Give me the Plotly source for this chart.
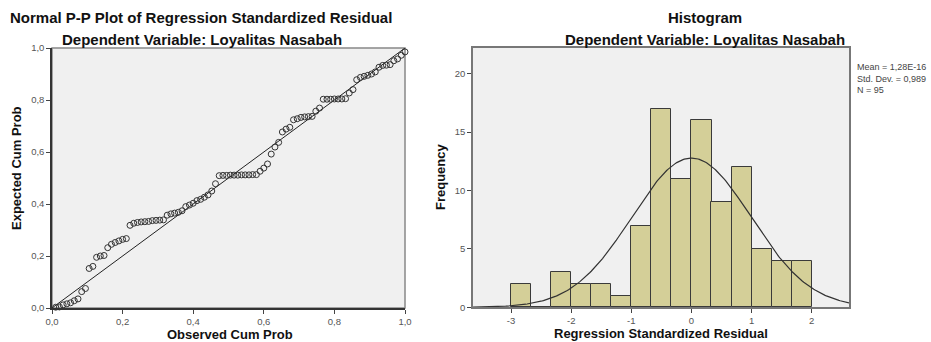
import numpy as np
import plotly.graph_objects as go

# ---------------- data ----------------
pp_title = "Normal P-P Plot of Regression Standardized Residual"
hist_title = "Histogram"
subtitle = "Dependent Variable: Loyalitas Nasabah"
pp_xlabel = "Observed Cum Prob"
pp_ylabel = "Expected Cum Prob"
hist_xlabel = "Regression Standardized Residual"
hist_ylabel = "Frequency"

N = 95
# Expected cumulative probability of each sorted residual
expected_cum_prob = [
    0.003, 0.004, 0.012, 0.016, 0.020, 0.028, 0.035,
    0.063, 0.075,
    0.152, 0.160,
    0.195, 0.200, 0.202,
    0.232, 0.245, 0.252,
    0.258, 0.264, 0.267,
    0.318,
    0.326, 0.329, 0.331, 0.332, 0.333,
    0.336, 0.337, 0.338, 0.339,
    0.357, 0.362, 0.365, 0.368,
    0.374, 0.390, 0.396, 0.403, 0.413, 0.418, 0.426, 0.435, 0.450,
    0.478,
    0.509, 0.510, 0.510, 0.511, 0.511, 0.511, 0.512, 0.512, 0.512, 0.513, 0.513,
    0.526, 0.538, 0.554,
    0.592,
    0.619, 0.637,
    0.677, 0.688, 0.695,
    0.724, 0.728, 0.733, 0.735, 0.736, 0.737,
    0.757, 0.769,
    0.803, 0.803, 0.803, 0.804, 0.804, 0.804, 0.805,
    0.827, 0.840,
    0.878, 0.887, 0.891, 0.895, 0.900, 0.908,
    0.926, 0.933, 0.934, 0.936,
    0.951, 0.958, 0.972, 0.985,
]
# Observed cumulative probability = rank / N
observed_cum_prob = [(i + 1) / N for i in range(len(expected_cum_prob))]

pp_ticks = [0.0, 0.2, 0.4, 0.6, 0.8, 1.0]
pp_ticktext = ["0,0", "0,2", "0,4", "0,6", "0,8", "1,0"]

# Histogram bins (width 1/3) and frequencies
bin_width = 1 / 3
bin_left_edges = [-3.0, -2.667, -2.333, -2.0, -1.667, -1.333, -1.0, -0.667,
                  -0.333, 0.0, 0.333, 0.667, 1.0, 1.333, 1.667]
frequencies = [2, 0, 3, 2, 2, 1, 7, 17, 11, 16, 9, 12, 5, 4, 4]

hist_mean = 1.28e-16
hist_sd = 0.989
stats_text = "Mean = 1,28E-16<br>Std. Dev. = 0,989<br>N = 95"

hist_xticks = [-3, -2, -1, 0, 1, 2]
hist_xticktext = ["-3", "-2", "-1", "0", "1", "2"]
hist_yticks = [0, 5, 10, 15, 20]

# ---------------- figure ----------------
W, H = 931, 342
FONT = "Liberation Sans, Arial, sans-serif"
bar_color = "#D4CF98"
plot_bg = "#F0F0F0"

def px_x(p):
    return p / W

def px_y(p):
    return 1 - p / H

fig = go.Figure()

# P-P plot
fig.add_trace(go.Scatter(
    x=[0, 1], y=[0, 1], mode="lines",
    line=dict(color="#222222", width=1), xaxis="x", yaxis="y",
    hoverinfo="skip", showlegend=False))
fig.add_trace(go.Scatter(
    x=observed_cum_prob, y=expected_cum_prob, mode="markers",
    marker=dict(symbol="circle-open", size=6, color="#333333",
                line=dict(width=1, color="#333333")),
    xaxis="x", yaxis="y", showlegend=False, cliponaxis=False))

# Histogram
centers = [e + bin_width / 2 for e in bin_left_edges]
fig.add_trace(go.Bar(
    x=centers, y=frequencies, width=bin_width,
    marker=dict(color=bar_color, line=dict(color="#3a3a3a", width=1)),
    xaxis="x2", yaxis="y2", showlegend=False))

x_lo, x_hi = -3.633, 2.62
xs = np.linspace(x_lo, x_hi, 300)
ys = N * bin_width * np.exp(-0.5 * ((xs - hist_mean) / hist_sd) ** 2) / (hist_sd * np.sqrt(2 * np.pi))
fig.add_trace(go.Scatter(
    x=xs, y=ys, mode="lines", line=dict(color="#333333", width=1.2),
    xaxis="x2", yaxis="y2", hoverinfo="skip", showlegend=False))

tickfont = dict(family=FONT, size=9.5, color="#555555")
axtitle_font = dict(family=FONT, size=13, color="#111111")
title_font = dict(family=FONT, size=15, color="#111111")

common_axis = dict(
    tickfont=tickfont, ticks="outside", ticklen=4, tickcolor="#444444",
    showgrid=False, zeroline=False, showline=True, linewidth=1.5,
    automargin=False,
)

fig.update_layout(
    width=W, height=H,
    margin=dict(l=0, r=0, t=0, b=0, pad=0, autoexpand=False),
    paper_bgcolor="white",
    plot_bgcolor=plot_bg,
    bargap=0,
    font=dict(family=FONT),
    xaxis=dict(domain=[px_x(52), px_x(405)], range=[0, 1],
               tickvals=pp_ticks, ticktext=pp_ticktext,
               linecolor="#333333", anchor="y", mirror=False, **common_axis),
    yaxis=dict(domain=[px_y(308), px_y(48)], range=[0, 1],
               tickvals=pp_ticks, ticktext=pp_ticktext,
               linecolor="#333333", anchor="x", mirror=False, **common_axis),
    xaxis2=dict(domain=[px_x(473), px_x(849)], range=[x_lo, x_hi],
                tickvals=hist_xticks, ticktext=hist_xticktext,
                linecolor="#777777", anchor="y2", mirror=True, **common_axis),
    yaxis2=dict(domain=[px_y(307.3), px_y(48)], range=[0, 22.2],
                tickvals=hist_yticks,
                linecolor="#777777", anchor="x2", mirror=True, **common_axis),
    shapes=[
        dict(type="rect", xref="x domain", yref="y domain", x0=0, x1=1, y0=0, y1=1,
             line=dict(color="#888888", width=1.5), fillcolor="rgba(0,0,0,0)", layer="below"),
    ],
    annotations=[
        dict(text="<b>" + pp_title + "</b>", x=px_x(201), y=px_y(18)),
        dict(text="<b>" + subtitle + "</b>", x=px_x(202), y=px_y(39)),
        dict(text="<b>" + hist_title + "</b>", x=px_x(705), y=px_y(18)),
        dict(text="<b>" + subtitle + "</b>", x=px_x(705), y=px_y(39)),
        dict(text="<b>" + pp_xlabel + "</b>", x=px_x(230), y=px_y(334), font=axtitle_font),
        dict(text="<b>" + hist_xlabel + "</b>", x=px_x(661), y=px_y(333), font=axtitle_font),
        dict(text="<b>" + pp_ylabel + "</b>", x=px_x(16), y=px_y(168), font=axtitle_font, textangle=-90),
        dict(text="<b>" + hist_ylabel + "</b>", x=px_x(440), y=px_y(177), font=axtitle_font, textangle=-90),
        dict(text=stats_text, x=px_x(855), y=px_y(60),
             font=dict(family=FONT, size=9, color="#444444"),
             xanchor="left", yanchor="top", align="left"),
    ],
)
for a in fig.layout.annotations:
    a.xref = "paper"
    a.yref = "paper"
    a.showarrow = False
    if a.font.size is None:
        a.font = title_font
    if a.xanchor is None:
        a.xanchor = "center"
        a.yanchor = "middle"

fig.write_html("out.html", config={"displayModeBar": False},
               post_script="document.body.style.margin='0';document.body.style.padding='0';")
